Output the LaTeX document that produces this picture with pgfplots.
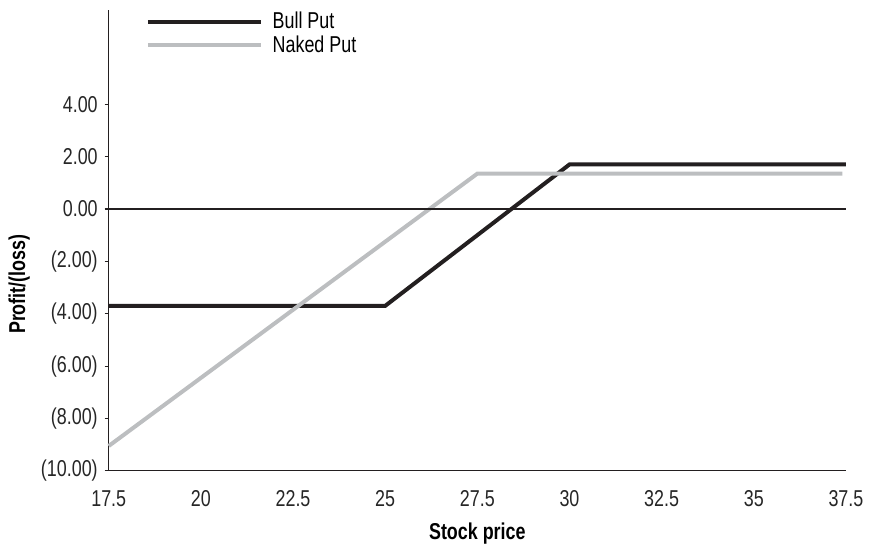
\documentclass[border=0pt]{standalone}
\usepackage{pgfplots}
\pgfplotsset{compat=1.18}
\usepackage{fontspec}
\setmainfont{Liberation Sans}[FakeStretch=0.78]
\definecolor{bullc}{HTML}{231F20}
\definecolor{nakedc}{HTML}{BCBEC0}
\begin{document}
\begin{tikzpicture}
\begin{axis}[
  scale only axis,
  width=369.5pt, height=231pt,
  xmin=17.5, xmax=37.5, ymin=-10, ymax=7.6,
  axis x line=bottom, axis y line=left,
  axis line style={-, color=bullc, line width=0.6pt},
  every axis x line/.append style={-},
  every axis y line/.append style={-},
  xtick={17.5,20,22.5,25,27.5,30,32.5,35,37.5},
  xticklabels={17.5,20,22.5,25,27.5,30,32.5,35,37.5},
  ytick={-10,-8,-6,-4,-2,0,2,4},
  yticklabels={(10.00),(8.00),(6.00),(4.00),(2.00),0.00,2.00,4.00},
  x tick style={draw=none},
  y tick style={color=bullc, line width=0.6pt},
  tick align=outside,
  major tick length=2pt,
  /pgf/number format/assume math mode=true,
  tick label style={font=\fontsize{11.5}{13}\selectfont, color=black!85},
  xticklabel style={yshift=-4.5pt},
  xlabel={\textbf{Stock price}},
  ylabel={\textbf{Profit/(loss)}},
  label style={font=\fontsize{11.5}{13}\selectfont},
  xlabel style={at={(axis description cs:0.5,0)}, anchor=center, yshift=-31.5pt},
  ylabel style={at={(axis description cs:-0.1215,0.405)}, anchor=center, rotate=0},
  legend style={at={(axis description cs:0.050,1.003)}, anchor=north west, draw=none, fill=none,
    font=\fontsize{11.5}{13}\selectfont, row sep=-1pt, inner sep=0pt,
    nodes={inner sep=1.5pt}},
  legend cell align=left,
  legend image code/.code={\draw[#1] (0pt,0pt) -- (56.5pt,0pt); \path (60pt,0pt);},
  clip=false,
]
\addplot[bullc, line width=2pt, line join=miter] coordinates {(17.5,-3.7) (25,-3.7) (30,1.7) (37.5,1.7)};
\addlegendentry{Bull Put}
\addplot[nakedc, line width=2pt, line join=miter] coordinates {(17.5,-9.05) (27.5,1.35) (37.4,1.35)};
\addlegendentry{Naked Put}
\addplot[bullc, line width=0.6pt, forget plot] coordinates {(17.5,0) (37.5,0)};
\end{axis}
\path (current axis.south west) ++(-54.5pt,-35.5pt) coordinate (bbsw);
\path (current axis.north east) ++(11pt,5pt) coordinate (bbne);
\useasboundingbox (bbsw) rectangle (bbne);
\end{tikzpicture}
\end{document}
